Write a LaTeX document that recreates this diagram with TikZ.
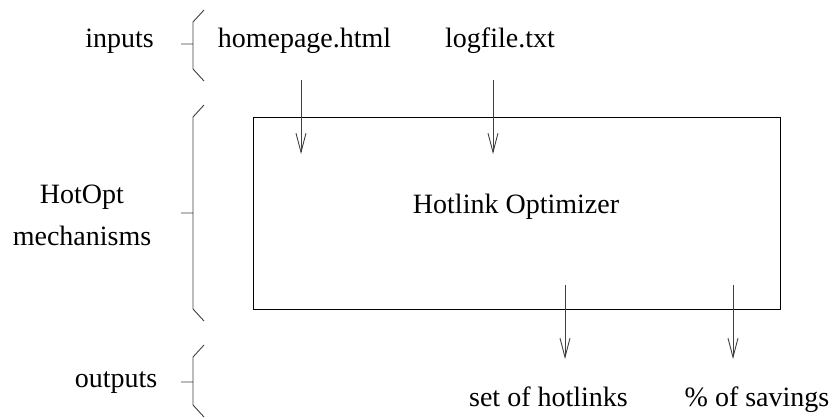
\documentclass[tikz,border=0pt]{standalone}
\usepackage{fontspec}
\setmainfont{Liberation Serif}
\usetikzlibrary{positioning, arrows.meta}

\tikzset{
	label/.style={inner sep=0pt, anchor=base, font=\fontsize{28}{42}\selectfont},
	flow/.style={draw=black!75, line width=0.9pt, -{Straight Barb[length=19pt, width=10pt]}},
	brace/.style={draw=black!75, line width=0.9pt},
}

\begin{document}
\begin{tikzpicture}[x=1pt, y=-1pt]
	\useasboundingbox (0,0) rectangle (835,418);

	% left column
	\node[label] (inputs) at (119.5,47) {inputs};
	\node[label, align=center] (mech) at (82,245) {HotOpt\\mechanisms};
	\node[label] (outputs) at (116,387) {outputs};

	% braces
	\draw[brace] (181,44) -- (193,44) (204,10) -- (193,22) -- (193,69) -- (204,81);
	\draw[brace] (181,213) -- (193,213) (204,105) -- (193,117) -- (193,309) -- (204,321);
	\draw[brace] (181,382) -- (193,382) (204,345) -- (193,357) -- (193,405) -- (204,417);

	% main box
	\node[draw, line width=0.9pt, minimum width=527pt, minimum height=192pt, inner sep=0pt] (opt) at (516.5,213) {};
	\node[label] (optname) at (516,213) {Hotlink Optimizer};

	% inputs
	\node[label] (home) at (304.5,47) {homepage.html};
	\node[label] (log) at (500,47) {logfile.txt};
	\coordinate (homein) at (301,80);
	\coordinate (homeend) at (301,154);
	\coordinate (login) at (493,80);
	\coordinate (logend) at (493,154);

	% outputs
	\node[label] (links) at (548.5,406) {set of hotlinks};
	\node[label] (save) at (757,406) {\% of savings};
	\coordinate (linksin) at (565,285);
	\coordinate (linksend) at (565,359);
	\coordinate (savein) at (733,285);
	\coordinate (saveend) at (733,359);

	\draw[flow] (homein) -- (homeend);
	\draw[flow] (login) -- (logend);
	\draw[flow] (linksin) -- (linksend);
	\draw[flow] (savein) -- (saveend);
\end{tikzpicture}
\end{document}
